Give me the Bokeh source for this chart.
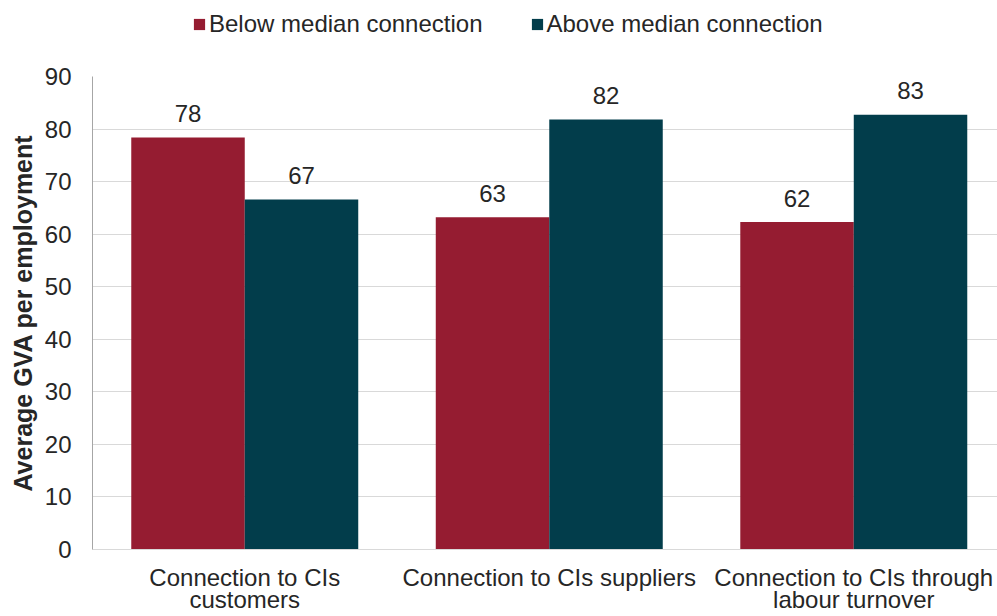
from bokeh.plotting import figure
from bokeh.layouts import column
from bokeh.models import (ColumnDataSource, Range1d, FixedTicker, Legend, LegendItem)
from bokeh.core.properties import value
from bokeh.embed import file_html
from bokeh.resources import INLINE

categories = ["Connection to CIs\ncustomers", "Connection to CIs suppliers",
              "Connection to CIs through\nlabour turnover"]
below = [78.4, 63.2, 62.3]
above = [66.6, 81.8, 82.7]
series_names = ["Below median connection", "Above median connection"]
colors = ["#951C31", "#023D4B"]
y_ticks = [0, 10, 20, 30, 40, 50, 60, 70, 80, 90]

FONT = "Liberation Sans"
TXT = "#262626"
bw = 0.3727

centers = [i + 0.5 for i in range(len(categories))]
src_b = ColumnDataSource(dict(x=[c - bw / 2 for c in centers], top=below,
                              lab=[str(round(v)) for v in below]))
src_a = ColumnDataSource(dict(x=[c + bw / 2 for c in centers], top=above,
                              lab=[str(round(v)) for v in above]))

# ---- legend strip ----
lg = figure(width=997, height=60, output_backend="svg", toolbar_location=None,
            x_range=Range1d(0, 997), y_range=Range1d(0, 60),
            x_axis_type=None, y_axis_type=None,
            min_border_left=0, min_border_right=0, min_border_top=0, min_border_bottom=0)
lg.outline_line_color = None
lg.xgrid.visible = False
lg.ygrid.visible = False
# legend-only swatch renderers, placed outside the visible range
d0 = lg.vbar(x=[-100], top=[0], width=1, fill_color=colors[0], line_color=None)
d1 = lg.vbar(x=[-100], top=[0], width=1, fill_color=colors[1], line_color=None)
legend = Legend(items=[LegendItem(label=series_names[0], renderers=[d0]),
                       LegendItem(label=series_names[1], renderers=[d1])],
                orientation="horizontal", location=(100, 22),
                glyph_width=14, glyph_height=14, label_standoff=3, spacing=47,
                label_text_font=FONT, label_text_font_size="24px", label_text_color=TXT,
                border_line_color=None, background_fill_alpha=0, padding=2, margin=0)
lg.add_layout(legend, "center")

# ---- main chart ----
p = figure(width=997, height=556, output_backend="svg", toolbar_location=None,
           x_range=Range1d(0, 2.972), y_range=Range1d(0, 90),
           min_border_left=92, min_border_right=0, min_border_top=16, min_border_bottom=66)
p.outline_line_color = None
p.background_fill_color = "white"

rb = p.vbar(x="x", top="top", width=bw, source=src_b, fill_color=colors[0], line_color=None)
ra = p.vbar(x="x", top="top", width=bw, source=src_a, fill_color=colors[1], line_color=None)

for s in (src_b, src_a):
    p.text(x="x", y="top", text="lab", source=s, text_align="center",
           text_baseline="alphabetic", y_offset=-24, text_font=value(FONT),
           text_font_size="24px", text_color=TXT)

p.xgrid.visible = False
p.ygrid.grid_line_color = "#D9D9D9"
p.ygrid.grid_line_width = 1

p.yaxis.ticker = FixedTicker(ticks=y_ticks)
p.yaxis.axis_label = "Average GVA per employment"
p.yaxis.axis_label_text_font = FONT
p.yaxis.axis_label_text_font_style = "bold"
p.yaxis.axis_label_text_font_size = "25px"
p.yaxis.axis_label_text_color = TXT
p.yaxis.axis_label_standoff = 5
p.yaxis.major_label_text_font = FONT
p.yaxis.major_label_text_font_size = "24px"
p.yaxis.major_label_text_color = TXT
p.yaxis.major_label_standoff = 15
p.yaxis.major_tick_line_color = None
p.yaxis.minor_tick_line_color = None
p.yaxis.axis_line_color = "#A6A6A6"

p.xaxis.ticker = FixedTicker(ticks=centers)
p.xaxis.major_label_overrides = {c: lab for c, lab in zip(centers, categories)}
p.xaxis.major_label_text_font = FONT
p.xaxis.major_label_text_font_size = "24px"
p.xaxis.major_label_text_color = TXT
p.xaxis.major_label_text_line_height = 0.85
p.xaxis.major_label_standoff = 8
p.xaxis.major_tick_line_color = None
p.xaxis.minor_tick_line_color = None
p.xaxis.axis_line_color = "#D9D9D9"

layout = column(lg, p, spacing=0)
open("out.html", "w").write(file_html(layout, INLINE))
